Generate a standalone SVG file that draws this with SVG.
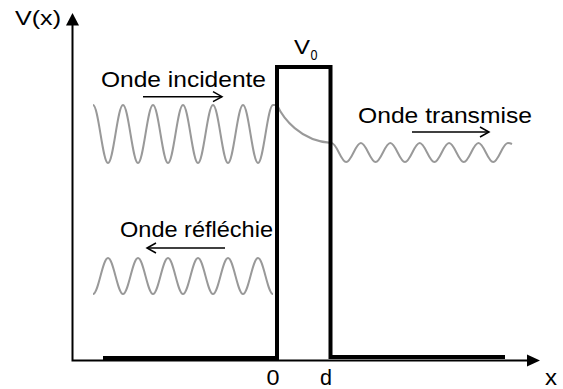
<svg xmlns="http://www.w3.org/2000/svg" width="563" height="389" viewBox="0 0 563 389">
<defs>
<style>
.txt{font-family:"Liberation Sans",Arial,sans-serif;fill:#000}
.wave{fill:none;stroke:#999;stroke-width:2}
.arr{fill:none;stroke:#000;stroke-width:1.5;marker-end:url(#open)}
.axis{fill:none;stroke:#000;stroke-width:2}
</style>
<marker id="open" markerUnits="userSpaceOnUse" markerWidth="14" markerHeight="14" refX="10" refY="6" orient="auto">
<polyline points="1,1 10,6 1,11" fill="none" stroke="#000" stroke-width="1.5"/>
</marker>
</defs>
<rect width="563" height="389" fill="#fff"/>
<g id="axes">
<path class="axis" d="M72.5,361 V24 M71.5,360.5 H528"/>
<polygon points="72.5,13 66,25.5 79,25.5" fill="#000"/>
<polygon points="540,360.5 527,354.5 527,366.5" fill="#000"/>
</g>
<g id="waves">
<path id="incident-wave" class="wave" d="M93,105 C98.45,105 102.55,163 108,163 S117.55,105 123,105 S132.55,163 138,163 S147.55,105 153,105 S162.55,163 168,163 S177.55,105 183,105 S192.55,163 198,163 S207.55,105 213,105 S222.55,163 228,163 S237.55,105 243,105 S252.55,163 258,163 S267.55,105 273,105 L277,105 C283,118 300,141 331.5,143"/>
<path id="transmitted-wave" class="wave" d="M331.5,143 C336.84,143 340.86,162 346.2,162 S355.56,143 360.9,143 S370.26,162 375.6,162 S384.96,143 390.3,143 S399.66,162 405,162 S414.36,143 419.7,143 S429.06,162 434.4,162 S443.76,143 449.1,143 S458.46,162 463.8,162 S473.16,143 478.5,143 S487.86,162 493.2,162 S502.56,143 507.9,143 C510,143 511,143.5 512,144"/>
<path id="reflected-wave" class="wave" d="M93,294 C98.45,294 102.55,258 108,258 S117.55,294 123,294 S132.55,258 138,258 S147.55,294 153,294 S162.55,258 168,258 S177.55,294 183,294 S192.55,258 198,258 S207.55,294 213,294 S222.55,258 228,258 S237.55,294 243,294 S252.55,258 258,258 S267.55,294 273,294"/>
</g>
<g id="barrier">
<path d="M103,358 H277 V67 H330.5 V357 H505" fill="none" stroke="#000" stroke-width="4" stroke-linejoin="miter"/>
</g>
<g id="connectors">
<line class="arr" x1="143" y1="96.7" x2="222" y2="96.7"/>
<line class="arr" x1="412" y1="132" x2="489" y2="132"/>
<line class="arr" x1="225" y1="248" x2="147" y2="248"/>
</g>
<g id="labels">
<text class="txt" x="15" y="25" font-size="21" textLength="46" lengthAdjust="spacingAndGlyphs">V(x)</text>
<text class="txt" x="101" y="87" font-size="22" textLength="165" lengthAdjust="spacingAndGlyphs">Onde incidente</text>
<text class="txt" x="358" y="123" font-size="22" textLength="174" lengthAdjust="spacingAndGlyphs">Onde transmise</text>
<text class="txt" x="120" y="237" font-size="22" textLength="153" lengthAdjust="spacingAndGlyphs">Onde réfléchie</text>
<text class="txt" x="294" y="53.5" font-size="21" textLength="16" lengthAdjust="spacingAndGlyphs">V</text>
<text class="txt" x="310.5" y="59.5" font-size="15" textLength="7" lengthAdjust="spacingAndGlyphs">0</text>
<text class="txt" x="266.5" y="385" font-size="22" textLength="13" lengthAdjust="spacingAndGlyphs">0</text>
<text class="txt" x="320" y="385" font-size="22" textLength="12" lengthAdjust="spacingAndGlyphs">d</text>
<text class="txt" x="545" y="385" font-size="22" textLength="12" lengthAdjust="spacingAndGlyphs">x</text>
</g>
</svg>
